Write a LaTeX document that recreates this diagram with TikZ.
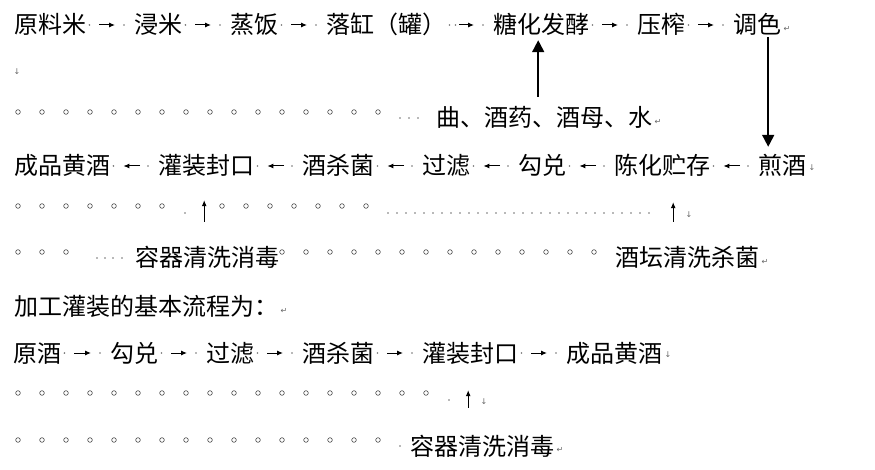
\documentclass[tikz,border=0pt]{standalone}
\usepackage{fontspec}
\usepackage{tikz}
\usetikzlibrary{arrows.meta,positioning}
\newfontfamily\cjk{Noto Sans CJK SC}
\newfontfamily\mkf{DejaVu Sans}

\begin{document}
\begin{tikzpicture}[x=1pt,y=-1pt,
    t/.style={anchor=west,inner sep=0pt,font=\cjk\fontsize{24}{28}\selectfont,text height=21pt,text depth=3pt},
    mk/.style={inner sep=0pt,font=\mkf\fontsize{8}{9}\selectfont,text=black!60},
    fw/.style={-{Latex[length=6pt,width=5pt]},line width=1pt,shorten <=13pt,shorten >=19pt},
    bw/.style={-{Latex[length=6pt,width=5pt]},line width=1pt,shorten <=18pt,shorten >=13pt},
    big/.style={-{Triangle[length=12pt,width=12pt]},line width=1.8pt},
    up/.style={-{Latex[length=6pt,width=5pt]},line width=1pt},
    sp/.style={fill=black!55},
    fs/.style={draw=black!70,line width=0.6pt}]
    \path[use as bounding box,fill=white] (0,0) rectangle (875,470);
    \node[t] (A1) at (14,25) {原料米};
    \node[t] (A2) at (134,25) {浸米};
    \node[t] (A3) at (230,25) {蒸饭};
    \node[t] (A4) at (326,25) {落缸（罐）};
    \node[t] (A5) at (493,25) {糖化发酵};
    \node[t] (A6) at (637,25) {压榨};
    \node[t] (A7) at (733,25) {调色};
    \node[mk,right=2pt of A7,yshift=-4pt] (E1) {↵};
    \node[mk] (E2) at (17,72) {↓};
    \foreach \i in {0,...,15} \draw[fs] ({18+24*\i},112) circle (2.3pt);
    \foreach \x in {400,409,418} \fill[sp] (\x,118) circle (0.9pt);
    \node[t] (Q) at (436,118) {曲、酒药、酒母、水};
    \node[mk,right=2pt of Q,yshift=-4pt] (E3) {↵};
    \node[t] (B1) at (14,166) {成品黄酒};
    \node[t] (B2) at (158,166) {灌装封口};
    \node[t] (B3) at (302,166) {酒杀菌};
    \node[t] (B4) at (422,166) {过滤};
    \node[t] (B5) at (518,166) {勾兑};
    \node[t] (B6) at (614,166) {陈化贮存};
    \node[t] (B7) at (758,166) {煎酒};
    \node[mk,right=2pt of B7,yshift=-2pt] (E4) {↓};
    \foreach \i in {0,...,6} \draw[fs] ({18+24*\i},206) circle (2.3pt) ({222+24*\i},206) circle (2.3pt);
    \fill[sp] (185,213) circle (0.9pt);
    \foreach \i in {0,...,29} \fill[sp] ({388+9*\i},213) circle (0.9pt);
    \node[mk] (E5) at (689,215) {↓};
    \foreach \i in {0,1,2} \draw[fs] ({18+24*\i},252) circle (2.3pt);
    \foreach \x in {97,105,113,122} \fill[sp] (\x,258) circle (0.9pt);
    \node[t] (D1) at (135,258) {容器清洗消毒};
    \foreach \i in {0,...,13} \draw[fs] ({282+24*\i},252) circle (2.3pt);
    \node[t] (D2) at (615,258) {酒坛清洗杀菌};
    \node[mk,right=2pt of D2,yshift=-4pt] (E6) {↵};
    \node[t] (H) at (14,307) {加工灌装的基本流程为：};
    \node[mk,right=2pt of H,yshift=-4pt] (E7) {↵};
    \node[t] (C1) at (13,353) {原酒};
    \node[t] (C2) at (110,353) {勾兑};
    \node[t] (C3) at (206,353) {过滤};
    \node[t] (C4) at (302,353) {酒杀菌};
    \node[t] (C5) at (422,353) {灌装封口};
    \node[t] (C6) at (566,353) {成品黄酒};
    \node[mk,right=2pt of C6,yshift=-2pt] (E8) {↓};
    \foreach \i in {0,...,17} \draw[fs] ({18+24*\i},393) circle (2.3pt);
    \fill[sp] (449,400) circle (0.9pt);
    \node[mk] (E9) at (484,402) {↓};
    \foreach \i in {0,...,15} \draw[fs] ({18+24*\i},440) circle (2.3pt);
    \fill[sp] (400,446) circle (0.9pt);
    \node[t] (D4) at (410,446) {容器清洗消毒};
    \node[mk,right=2pt of D4,yshift=-4pt] (E10) {↵};
    \foreach \a/\b in {A1/A2,A2/A3,A3/A4,A4/A5,A5/A6,A6/A7,C1/C2,C2/C3,C3/C4,C4/C5,C5/C6}{
        \draw[fw] (\a) -- (\b);
        \fill[sp] ([xshift=3pt]\a.east) circle (0.9pt) ([xshift=-10pt]\b.west) circle (0.9pt);
    }
    \fill[sp] ([xshift=9pt]A4.east) circle (0.9pt);
    \foreach \a/\b in {B1/B2,B2/B3,B3/B4,B4/B5,B5/B6,B6/B7}{
        \draw[bw] (\b) -- (\a);
        \fill[sp] ([xshift=3pt]\a.east) circle (0.9pt) ([xshift=-10pt]\b.west) circle (0.9pt);
    }
    \draw[big,shorten <=9pt,shorten >=3pt] ([xshift=-3pt]A5.south |- Q.north) -- ([xshift=-3pt]A5.south);
    \draw[big,shorten >=7pt] ([xshift=11pt]A7.south) -- ([xshift=11pt]A7.south |- B7.north);
    \draw[up,shorten <=24pt,shorten >=22pt] ([xshift=-2pt]B2.south |- D1.north) -- ([xshift=-2pt]B2.south);
    \draw[up,shorten <=24pt,shorten >=24pt] ([xshift=11pt]B6.south |- D2.north) -- ([xshift=11pt]B6.south);
    \draw[up,shorten <=26pt,shorten >=25pt] ([xshift=-2pt]C5.south |- D4.north) -- ([xshift=-2pt]C5.south);
\end{tikzpicture}
\end{document}
